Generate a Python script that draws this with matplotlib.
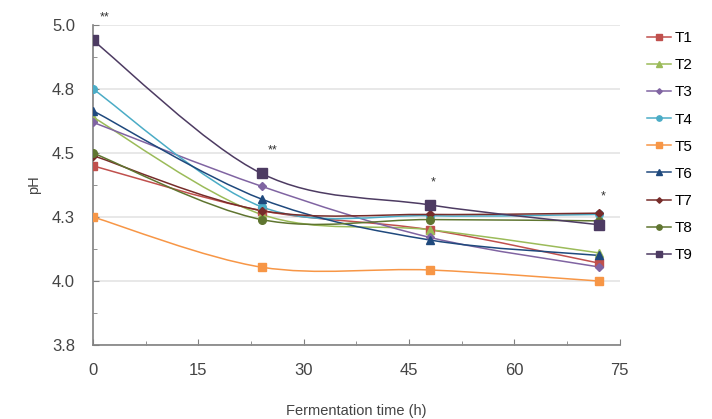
import matplotlib.pyplot as plt
import numpy as np
from matplotlib.path import Path
from matplotlib.patches import PathPatch
from matplotlib.ticker import MultipleLocator, FixedLocator

plt.rcParams['font.family'] = ['Liberation Sans Narrow', 'Liberation Sans', 'DejaVu Sans']

hours = [0, 24, 48, 72]
series = ['T1', 'T2', 'T3', 'T4', 'T5', 'T6', 'T7', 'T8', 'T9']
T1 = [4.45, 4.275, 4.20, 4.07]
T2 = [4.64, 4.26, 4.20, 4.11]
T3 = [4.62, 4.37, 4.17, 4.055]
T4 = [4.75, 4.29, 4.255, 4.26]
T5 = [4.25, 4.054, 4.043, 4.00]
T6 = [4.665, 4.32, 4.16, 4.10]
T7 = [4.49, 4.275, 4.26, 4.265]
T8 = [4.50, 4.24, 4.24, 4.235]
T9 = [4.94, 4.42, 4.297, 4.22]
values = [T1, T2, T3, T4, T5, T6, T7, T8, T9]

y_ticks = [3.75, 4.0, 4.25, 4.5, 4.75, 5.0]
y_tick_labels = ['3.8', '4.0', '4.3', '4.5', '4.8', '5.0']
x_ticks = [0, 15, 30, 45, 60, 75]

# significance marks
sig_x = [1.7, 25.5, 48.4, 72.6]
sig_y = [5.03, 4.51, 4.385, 4.33]
sig_text = ['**', '**', '*', '*']

colors = ['#C0504D', '#9BBB59', '#8064A2', '#4BACC6', '#F79646',
          '#1F497D', '#772C2A', '#5F7530', '#4D3B62']
markers = ['s', '^', 'D', 'o', 's', '^', 'D', 'o', 's']
msizes = [5.5, 5.5, 4, 5.5, 5.5, 5.5, 4, 5.5, 6.5]


def smooth_path(x, y):
    # Excel-like smoothed line as cubic Bezier segments
    pts = np.column_stack([x, y]).astype(float)
    n = len(pts)
    verts = [pts[0]]
    codes = [Path.MOVETO]
    for i in range(n - 1):
        p0 = pts[max(i - 1, 0)]
        p1 = pts[i]
        p2 = pts[i + 1]
        p3 = pts[min(i + 2, n - 1)]
        c1 = p1 + (p2 - p0) / 6
        c2 = p2 - (p3 - p1) / 6
        verts += [c1, c2, p2]
        codes += [Path.CURVE4] * 3
    return Path(verts, codes)


fig = plt.figure(figsize=(7.12, 4.19), dpi=100)
ax = fig.add_axes([0.1306, 0.1766, 0.740, 0.7637])

for name, vals, c, m, ms in zip(series, values, colors, markers, msizes):
    patch = PathPatch(smooth_path(hours, vals), facecolor='none', edgecolor=c, lw=1.1, zorder=3)
    ax.add_patch(patch)
    ax.plot(hours, vals, linestyle='none', marker=m, color=c, markersize=ms, zorder=4)
    ax.plot([], [], color=c, lw=1.1, marker=m, markersize=ms * 0.7, label=name)

for sx, sy, st in zip(sig_x, sig_y, sig_text):
    ax.text(sx, sy, st, ha='center', va='center', fontsize=9, color='#333333', clip_on=False)

ax.set_xlim(0, 75)
ax.set_ylim(3.75, 5.0)
ax.xaxis.set_major_locator(FixedLocator(x_ticks))
ax.xaxis.set_minor_locator(MultipleLocator(7.5))
ax.yaxis.set_major_locator(FixedLocator(y_ticks))
ax.set_yticklabels(y_tick_labels)
ax.yaxis.set_minor_locator(MultipleLocator(0.125))
ax.grid(axis='y', color='#e4e4e4', lw=1.2)
ax.set_axisbelow(True)

for s in ['top', 'right']:
    ax.spines[s].set_visible(False)
for s in ['left', 'bottom']:
    ax.spines[s].set_color('#808080')
    ax.spines[s].set_linewidth(1.2)
ax.tick_params(which='both', direction='in', colors='#808080', labelcolor='#444444', labelsize=12)
ax.tick_params(which='major', length=4)
ax.tick_params(which='minor', length=3)
ax.tick_params(axis='x', pad=13)
ax.tick_params(axis='y', pad=13)

ax.set_xlabel('Fermentation time (h)', fontsize=10.5, color='#444444', labelpad=19)
ax.set_ylabel('pH', fontsize=10.5, color='#444444', labelpad=8)

ax.legend(loc='upper left', bbox_to_anchor=(1.04, 1.0), frameon=False, fontsize=11,
          handlelength=1.6, handletextpad=0.2, labelspacing=0.86, borderaxespad=0)

fig.savefig('out.png', dpi=100)
